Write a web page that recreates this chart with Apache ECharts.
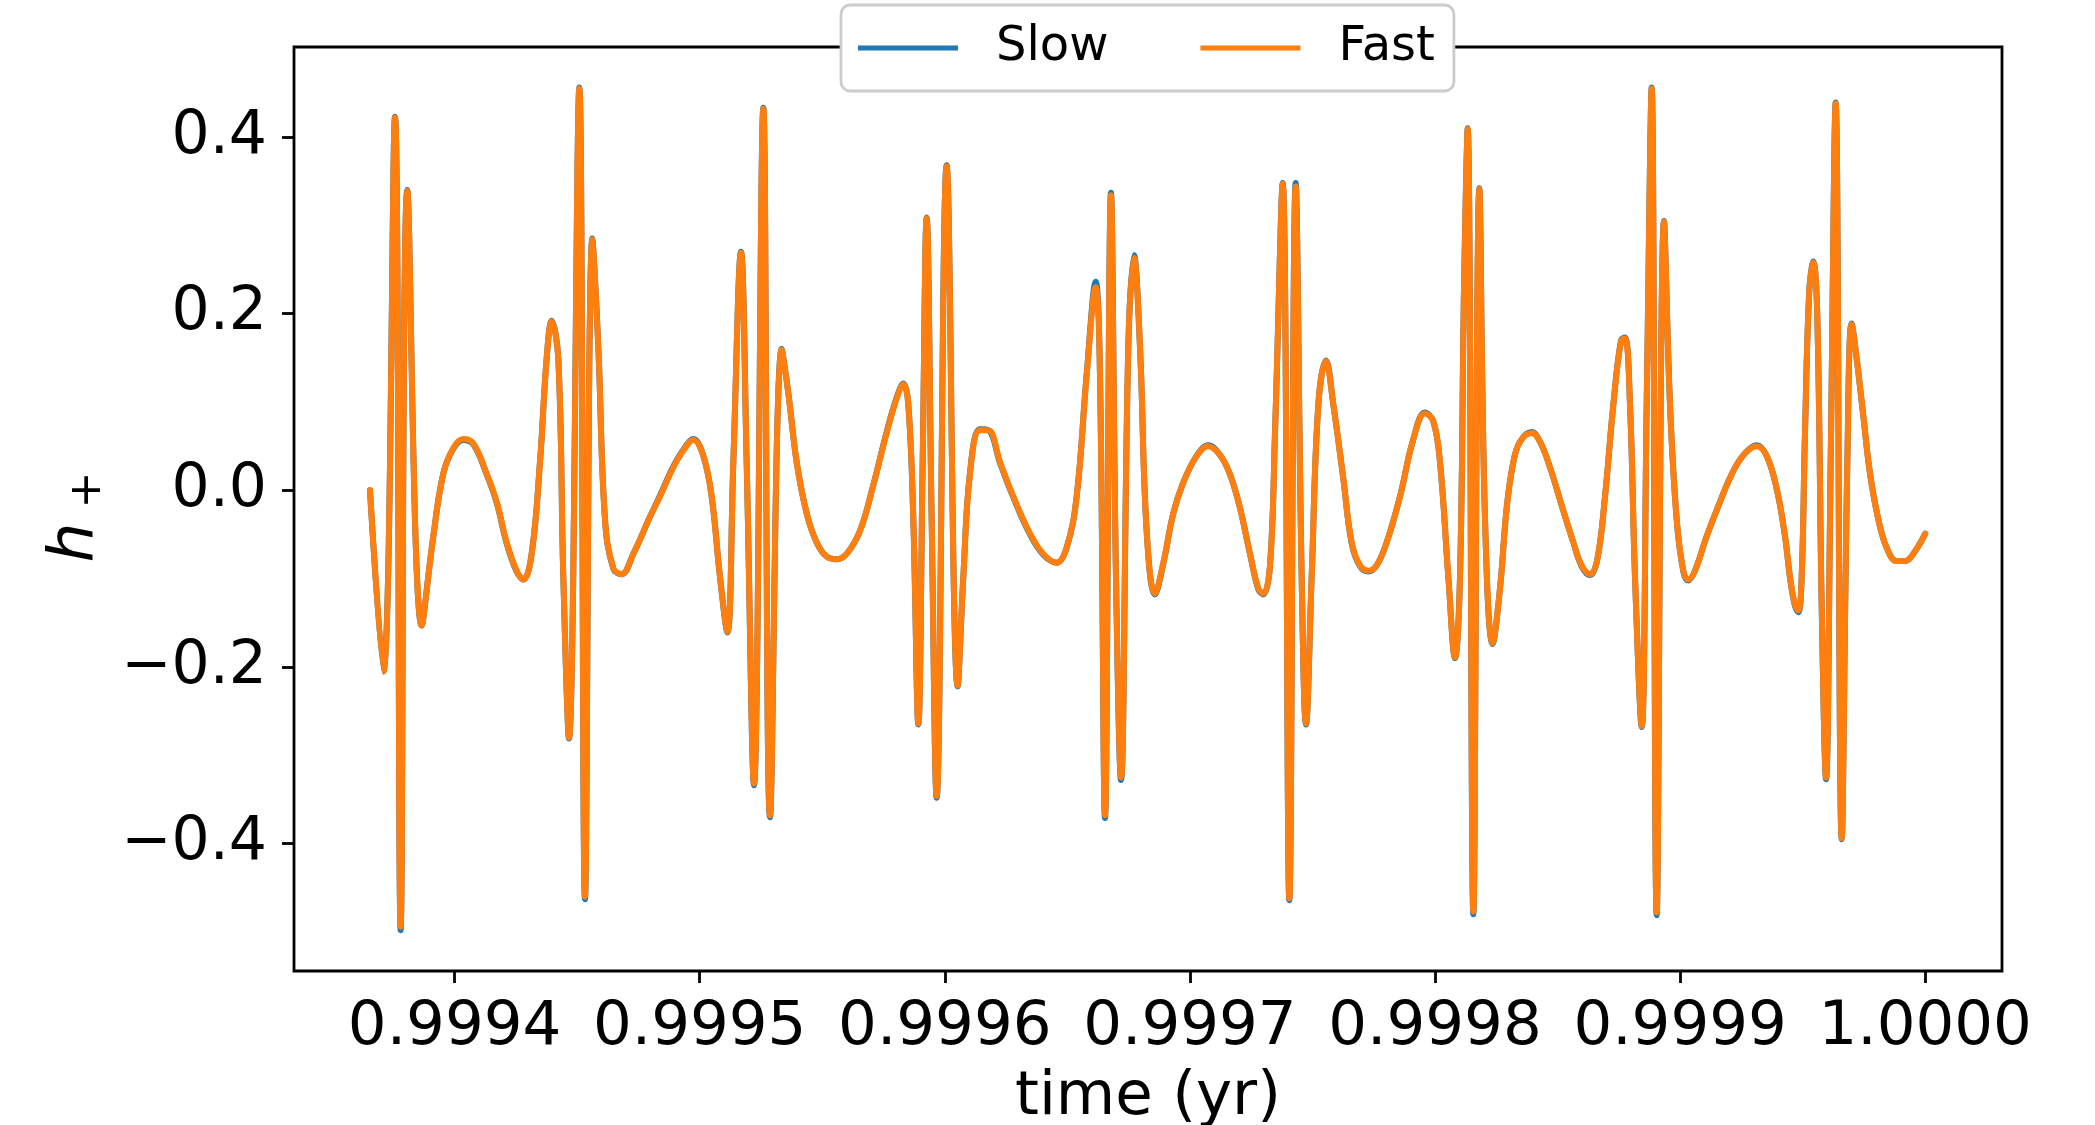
<!DOCTYPE html>
<html><head><meta charset="utf-8">
<script src="https://cdn.jsdelivr.net/npm/echarts@6/dist/echarts.min.js"></script>
<style>html,body{margin:0;padding:0;background:#fff}#c{width:2095px;height:1125px}</style>
</head><body><div id="c"></div>
<script>
// time in years
const timeYr = [
0.99936548,0.99937092,0.99937568,0.99937799,0.99938071,0.99938656,0.99939132,0.99939540,0.99939948,0.99940356,
0.99940764,0.99941308,0.99941717,0.99942124,0.99942532,0.99942804,0.99943144,0.99943484,0.99943756,0.99943960,
0.99944232,0.99944436,0.99944667,0.99945089,0.99945320,0.99945619,0.99945864,0.99946136,0.99946476,0.99946816,
0.99947292,0.99947972,0.99948380,0.99948924,0.99949332,0.99949740,0.99950148,0.99950488,0.99950828,0.99951127,
0.99951372,0.99951685,0.99951916,0.99952215,0.99952596,0.99952868,0.99953344,0.99953616,0.99953956,0.99954364,
0.99954772,0.99955180,0.99955588,0.99955996,0.99956540,0.99957084,0.99957628,0.99958036,0.99958308,0.99958512,
0.99958716,0.99958920,0.99959097,0.99959260,0.99959464,0.99959668,0.99960076,0.99960525,0.99960756,0.99961028,
0.99961436,0.99961776,0.99962252,0.99962796,0.99963476,0.99964020,0.99964564,0.99964972,0.99965380,0.99965787,
0.99966155,0.99966332,0.99966536,0.99966780,0.99966984,0.99967188,0.99967487,0.99967719,0.99967964,0.99968236,
0.99968576,0.99968916,0.99969324,0.99969732,0.99970276,0.99970752,0.99971228,0.99971636,0.99972044,0.99972452,
0.99972792,0.99972996,0.99973268,0.99973472,0.99973785,0.99974057,0.99974315,0.99974560,0.99974737,0.99974968,
0.99975240,0.99975553,0.99975852,0.99976260,0.99976600,0.99976940,0.99977280,0.99977620,0.99978028,0.99978572,
0.99979116,0.99979592,0.99979932,0.99980204,0.99980544,0.99980816,0.99981020,0.99981183,0.99981333,0.99981564,
0.99981808,0.99982040,0.99982353,0.99982652,0.99982924,0.99983196,0.99983468,0.99983944,0.99984284,0.99984692,
0.99985168,0.99985644,0.99985984,0.99986324,0.99986623,0.99986936,0.99987276,0.99987589,0.99987752,0.99987956,
0.99988160,0.99988432,0.99988636,0.99988840,0.99989044,0.99989343,0.99989588,0.99989860,0.99990132,0.99990336,
0.99990608,0.99991084,0.99991628,0.99992172,0.99992648,0.99993124,0.99993532,0.99993940,0.99994280,0.99994484,
0.99994688,0.99994824,0.99994960,0.99995095,0.99995272,0.99995436,0.99995599,0.99995776,0.99995953,0.99996143,
0.99996347,0.99996592,0.99996823,0.99997000,0.99997204,0.99997476,0.99997748,0.99998088,0.99998428,0.99998836,
0.99999176,0.99999584,1.00000000
];
// h_+ for the "Slow" computation
const slowH = [
0.000,-0.205,0.423,-0.498,0.340,-0.153,-0.052,0.019,0.047,0.057,
0.052,0.018,-0.014,-0.060,-0.092,-0.101,-0.072,0.032,0.149,0.192,
0.149,-0.098,-0.281,0.456,-0.463,0.285,0.162,-0.033,-0.089,-0.095,
-0.072,-0.030,-0.006,0.027,0.046,0.058,0.039,-0.007,-0.098,-0.161,
0.032,0.270,0.032,-0.334,0.433,-0.370,0.160,0.110,0.032,-0.026,
-0.059,-0.075,-0.078,-0.072,-0.046,0.006,0.066,0.105,0.121,0.097,
-0.033,-0.265,0.032,0.309,-0.033,-0.348,0.368,-0.222,-0.098,0.020,
0.069,0.068,0.031,-0.008,-0.050,-0.073,-0.082,-0.065,-0.007,0.131,
0.236,0.130,-0.371,0.337,-0.098,-0.328,0.162,0.266,0.162,-0.046,
-0.118,-0.083,-0.026,0.009,0.039,0.051,0.040,0.018,-0.020,-0.072,
-0.112,-0.118,-0.085,0.065,0.348,-0.464,0.348,-0.098,-0.265,-0.098,
0.097,0.147,0.097,0.013,-0.060,-0.086,-0.092,-0.085,-0.059,-0.007,
0.058,0.088,0.078,0.032,-0.098,-0.190,-0.098,0.227,0.410,-0.480,
0.342,-0.033,-0.174,-0.111,-0.020,0.032,0.055,0.066,0.055,0.026,
-0.017,-0.059,-0.086,-0.096,-0.078,-0.007,0.097,0.170,0.173,0.097,
-0.098,-0.268,0.097,0.456,-0.481,0.305,0.097,-0.033,-0.092,-0.102,
-0.091,-0.052,-0.013,0.022,0.042,0.051,0.039,0.002,-0.052,-0.099,
-0.131,-0.138,-0.098,0.065,0.227,0.259,0.195,-0.130,-0.327,0.032,
0.439,-0.395,0.032,0.189,0.149,0.084,0.019,-0.033,-0.065,-0.080,
-0.080,-0.069,-0.049
];
// h_+ for the "Fast" computation
const fastH = [
0.000,-0.205,0.422,-0.494,0.339,-0.153,-0.052,0.019,0.048,0.058,
0.053,0.019,-0.013,-0.059,-0.091,-0.101,-0.072,0.032,0.149,0.191,
0.149,-0.098,-0.280,0.455,-0.460,0.284,0.162,-0.033,-0.088,-0.095,
-0.072,-0.030,-0.007,0.026,0.045,0.057,0.039,-0.007,-0.098,-0.160,
0.032,0.269,0.032,-0.332,0.432,-0.368,0.159,0.110,0.032,-0.026,
-0.059,-0.075,-0.078,-0.072,-0.046,0.006,0.065,0.104,0.120,0.097,
-0.033,-0.264,0.032,0.308,-0.033,-0.346,0.367,-0.221,-0.098,0.019,
0.068,0.068,0.032,-0.007,-0.049,-0.072,-0.082,-0.065,-0.007,0.130,
0.230,0.130,-0.368,0.334,-0.098,-0.325,0.162,0.263,0.162,-0.046,
-0.117,-0.082,-0.026,0.009,0.039,0.050,0.040,0.018,-0.020,-0.072,
-0.111,-0.117,-0.085,0.065,0.347,-0.462,0.344,-0.098,-0.264,-0.098,
0.097,0.146,0.097,0.013,-0.059,-0.085,-0.091,-0.085,-0.059,-0.007,
0.058,0.087,0.078,0.032,-0.098,-0.189,-0.098,0.227,0.409,-0.477,
0.341,-0.033,-0.173,-0.111,-0.020,0.032,0.055,0.065,0.055,0.026,
-0.017,-0.059,-0.085,-0.095,-0.078,-0.007,0.097,0.169,0.172,0.097,
-0.098,-0.267,0.097,0.455,-0.478,0.304,0.097,-0.033,-0.091,-0.101,
-0.091,-0.052,-0.013,0.022,0.042,0.050,0.039,0.002,-0.052,-0.098,
-0.130,-0.136,-0.098,0.065,0.227,0.258,0.195,-0.130,-0.325,0.032,
0.438,-0.394,0.032,0.188,0.149,0.084,0.019,-0.033,-0.065,-0.080,
-0.080,-0.069,-0.049
];
const seriesNames = ['Slow', 'Fast'];
const xTicks = [0.9994, 0.9995, 0.9996, 0.9997, 0.9998, 0.9999, 1.0000];
const yTicks = [-0.4, -0.2, 0.0, 0.2, 0.4];
const xRange = [0.99933448, 1.00003133];
const yRange = [-0.5442, 0.5019];

const FONT = 'DejaVu Sans';
const chart = echarts.init(document.getElementById('c'), null, {renderer: 'canvas'});
const mk = arr => timeYr.map((t, i) => [t, arr[i]]);
const fmtY = v => (v < -1e-9 ? '\u2212' : '') + Math.abs(v).toFixed(1);

chart.setOption({
  animation: false,
  backgroundColor: '#ffffff',
  grid: {left: 294, top: 47, right: 93, bottom: 154, containLabel: false, outerBoundsMode: 'none',
         show: true, borderColor: '#000', borderWidth: 2.8, backgroundColor: 'transparent'},
  legend: {
    data: seriesNames, left: 841, top: 5, orient: 'horizontal',
    padding: [18, 19, 18, 17], itemWidth: 100, itemHeight: 5, itemGap: 92, icon: 'rect',
    backgroundColor: '#ffffff', borderColor: '#cccccc', borderWidth: 2.8, borderRadius: 9,
    textStyle: {fontSize: 48, color: '#000', fontFamily: FONT, padding: [0, 0, 0, 33], lineHeight: 50}
  },
  xAxis: {
    type: 'value', min: xRange[0], max: xRange[1],
    axisLine: {show: false, onZero: false},
    axisTick: {show: true, customValues: xTicks, length: 12, lineStyle: {color: '#000', width: 2.8}},
    axisLabel: {customValues: xTicks, formatter: v => v.toFixed(4), fontSize: 61, color: '#000', margin: 27, fontFamily: FONT},
    splitLine: {show: false},
    name: 'time (yr)', nameLocation: 'middle', nameGap: 97,
    nameTextStyle: {fontSize: 61, color: '#000', fontFamily: FONT}
  },
  yAxis: {
    type: 'value', min: yRange[0], max: yRange[1],
    axisLine: {show: false, onZero: false},
    axisTick: {show: true, customValues: yTicks, length: 12, lineStyle: {color: '#000', width: 2.8}},
    axisLabel: {customValues: yTicks, formatter: fmtY, fontSize: 60, color: '#000', margin: 27, fontFamily: FONT},
    splitLine: {show: false},
    name: '{h|h}{s|+}', nameLocation: 'middle', nameGap: 180, nameRotate: 90,
    nameTextStyle: {
      rich: {
        h: {fontSize: 63, fontStyle: 'italic', fontFamily: FONT, color: '#000', lineHeight: 70},
        s: {fontSize: 44, fontFamily: FONT, color: '#000', lineHeight: 40, verticalAlign: 'bottom', padding: [0, 16, 0, 14]}
      }
    }
  },
  series: [
    {name: seriesNames[0], type: 'line', data: mk(slowH), showSymbol: false, smooth: 0.4, z: 2,
     itemStyle: {color: '#1f77b4'}, lineStyle: {color: '#1f77b4', width: 6, cap: 'round', join: 'round'}},
    {name: seriesNames[1], type: 'line', data: mk(fastH), showSymbol: false, smooth: 0.4, z: 3,
     itemStyle: {color: '#ff7f0e'}, lineStyle: {color: '#ff7f0e', width: 6, cap: 'round', join: 'round'}}
  ]
});
</script></body></html>
